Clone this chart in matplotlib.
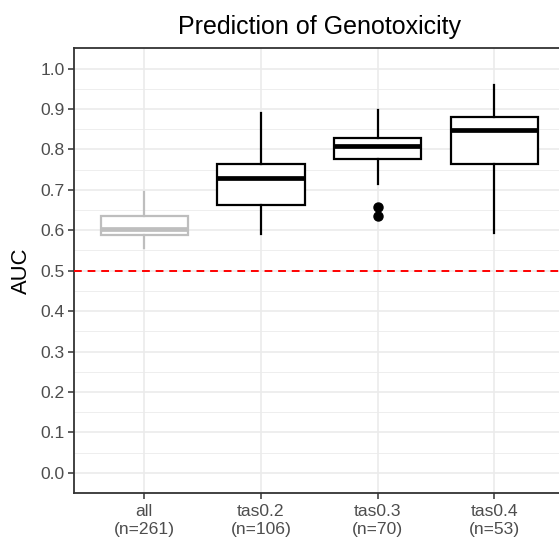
import matplotlib
matplotlib.use("Agg")
import matplotlib.pyplot as plt
import numpy as np

plt.rcParams['font.family'] = ['Liberation Sans', 'DejaVu Sans']

# AUC summaries per training set
groups = ["all", "tas0.2", "tas0.3", "tas0.4"]
counts = [261, 106, 70, 53]
q1 = [0.588, 0.662, 0.775, 0.765]
med = [0.602, 0.729, 0.809, 0.847]
q3 = [0.635, 0.763, 0.829, 0.880]
whislo = [0.556, 0.590, 0.714, 0.593]
whishi = [0.694, 0.891, 0.897, 0.960]
fliers = [[], [], [0.658, 0.635], []]
box_colors = ["#BEBEBE", "black", "black", "black"]
chance = 0.5

fig = plt.figure(figsize=(5.59, 5.42), dpi=100)
ax = fig.add_axes([0.1329, 0.0904, 0.8766, 0.8205])

for i, g in enumerate(groups):
    st = [dict(label=g, q1=q1[i], med=med[i], q3=q3[i],
               whislo=whislo[i], whishi=whishi[i], fliers=fliers[i])]
    c = box_colors[i]
    ax.bxp(st, positions=[i + 1], widths=0.75, showcaps=False,
           patch_artist=True, manage_ticks=False,
           boxprops=dict(facecolor="white", edgecolor=c, linewidth=1.6),
           whiskerprops=dict(color=c, linewidth=1.6),
           medianprops=dict(color=c, linewidth=3.4, solid_capstyle="butt"),
           flierprops=dict(marker="o", markerfacecolor=c, markeredgecolor=c,
                           markersize=6.5, linestyle="none"),
           zorder=3)

ax.axhline(chance, color="#FF0000", linestyle=(0, (4, 3)), linewidth=1.4, zorder=4)

ax.set_xlim(0.4, 4.6)
ax.set_ylim(-0.05, 1.05)
ax.set_xticks(range(1, len(groups) + 1))
ax.set_xticklabels([f"{g}\n(n={n})" for g, n in zip(groups, counts)],
                   linespacing=1.2)
ax.set_yticks(np.arange(0, 1.01, 0.1))
ax.set_yticklabels([f"{v:.1f}" for v in np.arange(0, 1.01, 0.1)])
ax.set_yticks(np.arange(0.05, 1.01, 0.1), minor=True)

ax.grid(True, which="major", color="#EBEBEB", linewidth=1.2, zorder=0)
ax.grid(True, which="minor", axis="y", color="#EBEBEB", linewidth=0.6, zorder=0)
ax.set_axisbelow(True)

ax.tick_params(axis="both", which="major", length=4, width=1.1, color="#333333",
               labelcolor="#4D4D4D", labelsize=12.6, pad=3)
ax.tick_params(axis="x", which="major", pad=4)
ax.tick_params(axis="y", which="minor", length=0)
for s in ax.spines.values():
    s.set_color("#333333")
    s.set_linewidth(1.3)

ax.set_ylabel("AUC", fontsize=15.8, labelpad=6)
ax.set_title("Prediction of Genotoxicity", fontsize=18, pad=10)

fig.savefig("out.png", dpi=100)
